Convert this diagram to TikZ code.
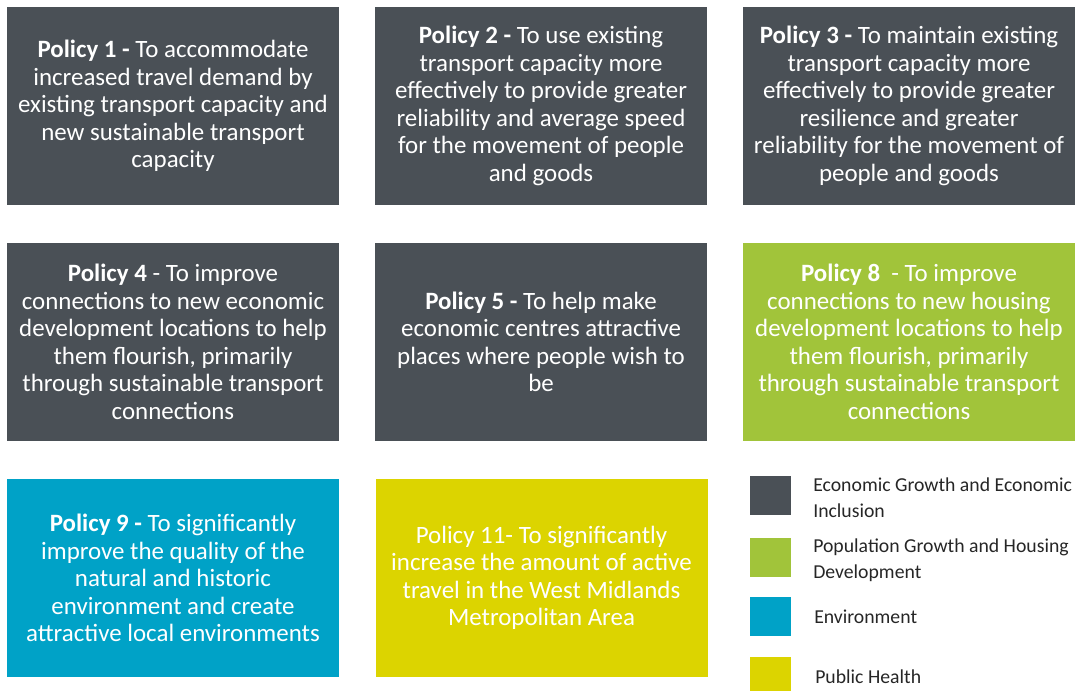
\documentclass[tikz,border=0pt]{standalone}
\usepackage{fontspec}
\setmainfont{Carlito}
\definecolor{econ}{HTML}{4A5056}
\definecolor{housing}{HTML}{A1C43A}
\definecolor{environ}{HTML}{00A2C7}
\definecolor{health}{HTML}{DCD400}
\definecolor{legtext}{HTML}{262626}
\begin{document}
\begin{tikzpicture}[x=0.75pt,y=-0.75pt]
\tikzstyle{policy}=[minimum width=249pt,minimum height=148.5pt,inner sep=0pt,align=center,text=white,
  font=\fontsize{18.7pt}{20.6pt}\selectfont]
\tikzstyle{key}=[minimum width=30.75pt,minimum height=29.25pt,inner sep=0pt]
\tikzstyle{keytext}=[anchor=west,align=left,text=legtext,inner sep=0pt,font=\fontsize{14.8pt}{19.5pt}\selectfont]
\useasboundingbox (0,0) rectangle (1080,691);
% policy boxes
\node (P1) [policy,fill=econ] at (173,106) {\textbf{Policy 1 -} To accommodate\\increased travel demand by\\existing transport capacity and\\new sustainable transport\\capacity};
\node (P2) [policy,fill=econ] at (541,106) {\textbf{Policy 2 -} To use existing\\transport capacity more\\effectively to provide greater\\reliability and average speed\\for the movement of people\\and goods};
\node (P3) [policy,fill=econ] at (909,106) {\textbf{Policy 3 -} To maintain existing\\transport capacity more\\effectively to provide greater\\resilience and greater\\reliability for the movement of\\people and goods};
\node (P4) [policy,fill=econ] at (173,342) {\textbf{Policy 4} - To improve\\connections to new economic\\development locations to help\\them flourish, primarily\\through sustainable transport\\connections};
\node (P5) [policy,fill=econ] at (541,342) {\textbf{Policy 5 -} To help make\\economic centres attractive\\places where people wish to\\be};
\node (P8) [policy,fill=housing] at (909,342) {\textbf{Policy 8}\ \ - To improve\\connections to new housing\\development locations to help\\them flourish, primarily\\through sustainable transport\\connections};
\node (P9) [policy,fill=environ] at (173,578) {\textbf{Policy 9 -} To significantly\\improve the quality of the\\natural and historic\\environment and create\\attractive local environments};
\node (P11) [policy,fill=health] at (541.5,578) {Policy 11- To significantly\\increase the amount of active\\travel in the West Midlands\\Metropolitan Area};
% legend
\node (K1) [key,fill=econ] at (770.5,495.5) {};
\node (K2) [key,fill=housing] at (770.5,557) {};
\node (K3) [key,fill=environ] at (770.5,616.5) {};
\node (K4) [key,fill=health] at (770.5,676.5) {};
\node (T1) [keytext] at (813,498) {Economic Growth and Economic\\Inclusion};
\node (T2) [keytext] at (813,560) {Population Growth and Housing\\Development};
\node (T3) [keytext] at (814,617) {Environment};
\node (T4) [keytext] at (815,677) {Public Health};
\end{tikzpicture}
\end{document}
